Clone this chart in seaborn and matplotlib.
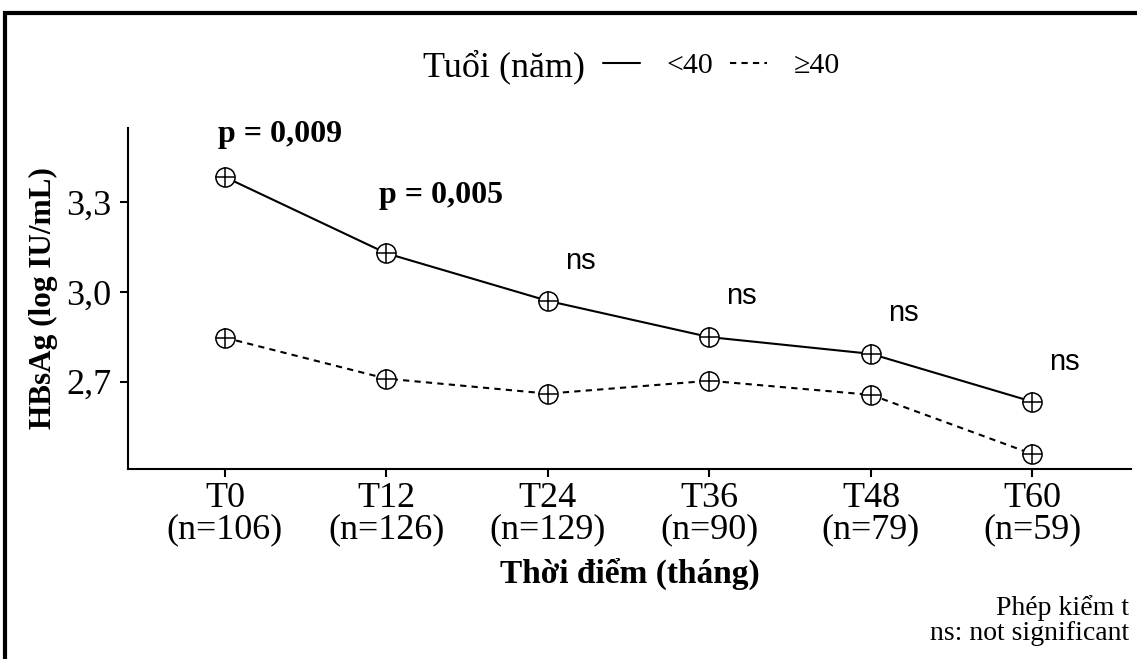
import matplotlib
matplotlib.use('Agg')
import matplotlib.pyplot as plt
from matplotlib.lines import Line2D
from matplotlib.patches import Rectangle
import seaborn as sns
import pandas as pd

# Data
timepoints = ['T0\n(n=106)', 'T12\n(n=126)', 'T24\n(n=129)', 'T36\n(n=90)', 'T48\n(n=79)', 'T60\n(n=59)']
under40 = [3.384, 3.129, 2.970, 2.849, 2.793, 2.633]
over40 = [2.847, 2.710, 2.660, 2.703, 2.656, 2.458]
group_labels = ['<40', '\u226540']
yticks = [2.7, 3.0, 3.3]
ytick_labels = ['2,7', '3,0', '3,3']
pvals = ['p = 0,009', 'p = 0,005', 'ns', 'ns', 'ns', 'ns']
pval_y = [3.525, 3.323, 3.105, 2.985, 2.930, 2.767]

idx = list(range(len(timepoints)))
df = pd.DataFrame({
    'idx': idx * 2,
    'val': under40 + over40,
    'group': [group_labels[0]] * len(idx) + [group_labels[1]] * len(idx),
})

sns.set_theme(style='ticks')
plt.rcParams['font.family'] = ['Liberation Serif', 'DejaVu Serif']
# pure black text like the original
for key in ['text.color', 'axes.labelcolor', 'xtick.color', 'ytick.color', 'axes.edgecolor']:
    plt.rcParams[key] = 'black'

fig = plt.figure(figsize=(11.37, 6.59), dpi=100)
ax = fig.add_axes([0.1126, 0.2883, 0.8821, 0.5175])

# lines
sns.lineplot(data=df, x='idx', y='val', style='group', color='black',
             dashes={group_labels[0]: '', group_labels[1]: (3, 2.5)},
             linewidth=1.5, legend=False, ax=ax)

# circled-plus markers
sns.scatterplot(data=df, x='idx', y='val', marker='o', s=190, facecolor='white',
                edgecolor='black', linewidth=1.1, legend=False, ax=ax, zorder=3)
sns.scatterplot(data=df, x='idx', y='val', marker='+', s=190, color='black',
                linewidth=1.1, legend=False, ax=ax, zorder=4)

# p-value annotations
for i, (txt, yy) in enumerate(zip(pvals, pval_y)):
    if txt.startswith('p'):
        ax.text(i - 0.045, yy, txt, ha='left', va='center', fontsize=23,
                fontweight='bold', family='Liberation Serif')
    else:
        ax.text(i + 0.2, yy, txt, ha='center', va='center', fontsize=21,
                family='Liberation Sans')

ax.set_xlim(-0.6, 5.61)
ax.set_ylim(2.408, 3.548)
ax.set_xticks(idx)
ax.set_xticklabels(timepoints, fontsize=26, linespacing=0.95)
ax.set_yticks(yticks)
ax.set_yticklabels(ytick_labels, fontsize=26)
ax.tick_params(axis='both', length=6, width=1.5, color='black', labelcolor='black', pad=3)
ax.tick_params(axis='y', pad=6)
ax.set_xlabel('Thời điểm (tháng)', fontsize=24, fontweight='bold', labelpad=8)
ax.set_ylabel('HBsAg (log IU/mL)', fontsize=22.5, fontweight='bold', labelpad=6)
for s in ['top', 'right']:
    ax.spines[s].set_visible(False)
for s in ['left', 'bottom']:
    ax.spines[s].set_linewidth(1.5)
    ax.spines[s].set_color('black')

# legend at top
fig.text(0.443, 1 - 67 / 659, 'Tuổi (năm)', ha='center', va='center', fontsize=26)
handles = [Line2D([], [], color='black', lw=1.5),
           Line2D([], [], color='black', lw=1.5, dashes=(3, 2.5))]
fig.legend(handles, group_labels, loc='center left', ncol=2, frameon=False,
           bbox_to_anchor=(0.530, 1 - 66 / 659), fontsize=21.5,
           handlelength=1.25, handletextpad=0.9, columnspacing=0.55,
           borderaxespad=0, borderpad=0)

# caption
fig.text(0.993, 1 - 608 / 659, 'Phép kiểm t', ha='right', va='center', fontsize=20)
fig.text(0.993, 1 - 633 / 659, 'ns: not significant', ha='right', va='center', fontsize=20)

# outer frame (cut at right and bottom edges)
fig.patches.append(Rectangle((0.0048, -0.2), 1.2, 1.181, transform=fig.transFigure,
                             fill=False, edgecolor='black', linewidth=3, clip_on=False))

fig.savefig('out.png', dpi=100)
